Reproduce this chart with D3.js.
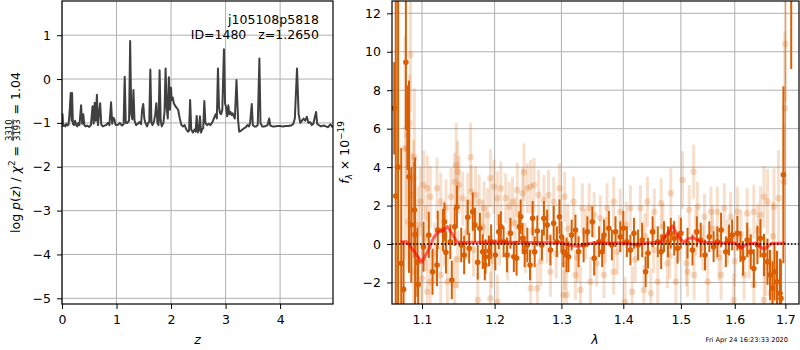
<!DOCTYPE html>
<html><head><meta charset="utf-8">
<script src="https://cdn.jsdelivr.net/npm/d3@7"></script>
<style>body{margin:0;background:#fff} svg{display:block} text{font-family:"DejaVu Sans",sans-serif;fill:#000}</style>
</head><body><svg id="c" width="800" height="350"></svg>
<script>
// ---------- DATA ----------
const pzZ = [0.00,0.01,0.02,0.04,0.06,0.08,0.10,0.12,0.14,0.16,0.175,0.185,0.20,0.22,0.24,0.26,0.28,0.30,0.32,0.35,0.37,0.39,0.41,0.43,0.46,0.50,0.53,0.56,0.58,0.60,0.62,0.64,0.66,0.68,0.70,0.72,0.75,0.78,0.81,0.84,0.87,0.90,0.92,0.94,0.96,0.98,1.02,1.06,1.10,1.13,1.15,1.17,1.20,1.23,1.25,1.27,1.29,1.31,1.33,1.36,1.39,1.42,1.45,1.47,1.49,1.51,1.53,1.56,1.58,1.60,1.62,1.64,1.66,1.69,1.71,1.73,1.75,1.77,1.79,1.81,1.83,1.86,1.88,1.90,1.92,1.94,1.96,1.98,2.00,2.01,2.03,2.05,2.08,2.10,2.13,2.16,2.19,2.22,2.25,2.28,2.31,2.33,2.35,2.37,2.40,2.43,2.45,2.47,2.49,2.51,2.53,2.55,2.57,2.59,2.61,2.63,2.66,2.69,2.72,2.75,2.77,2.80,2.82,2.84,2.86,2.88,2.90,2.92,2.94,2.97,2.99,3.01,3.03,3.05,3.07,3.09,3.11,3.13,3.15,3.17,3.20,3.23,3.25,3.28,3.31,3.34,3.37,3.40,3.43,3.45,3.48,3.50,3.53,3.56,3.59,3.62,3.64,3.67,3.70,3.74,3.77,3.80,3.82,3.86,3.90,3.95,4.00,4.05,4.10,4.15,4.20,4.24,4.27,4.31,4.34,4.37,4.40,4.43,4.46,4.49,4.52,4.55,4.58,4.61,4.64,4.66,4.68,4.71,4.75,4.80,4.84,4.88,4.92,4.95,4.97];
const pzLogP = [-1.08,-0.80,-1.07,-1.05,-1.08,-1.02,-1.06,-1.04,-0.75,-0.32,-0.95,-0.32,-1.02,-1.05,-0.95,-1.05,-1.08,-1.00,-1.05,-0.60,-1.02,-0.80,-1.05,-1.08,-1.06,-1.09,-1.05,-0.62,-1.02,-0.54,-0.95,-0.36,-1.05,-0.78,-0.55,-1.04,-1.08,-1.06,-1.05,-1.00,-1.05,-0.53,-1.02,-0.88,-0.92,-1.04,-1.05,-1.00,-1.06,-1.03,0.05,-1.00,-1.00,-0.95,0.87,-0.80,-0.92,-0.25,-0.95,-1.05,-1.02,-0.98,-1.03,-0.70,-0.57,-0.90,-1.00,-1.08,-1.00,-0.98,0.22,-1.00,-1.05,-0.95,-0.80,-0.55,-1.00,-1.05,0.20,-0.95,-1.08,-1.00,-0.75,0.24,-0.65,-0.90,0.04,-0.70,-0.20,-0.48,-0.42,-0.55,-0.62,-0.65,-0.70,-0.90,-1.05,-1.08,-1.05,-1.15,-1.20,-1.18,-0.48,-1.15,-1.22,-1.15,-1.20,-0.84,-1.22,-1.18,-0.85,-1.22,-1.15,-1.12,-0.50,-1.00,-1.05,-1.02,-1.05,-1.00,-0.95,-0.85,-0.80,-0.90,0.24,-0.65,-0.78,-0.80,-0.70,0.68,-0.55,-0.65,-0.85,-0.60,-0.80,-0.75,-0.82,-0.78,-0.85,-0.90,-0.02,-0.95,-1.20,-1.18,-1.15,-1.12,-1.10,-1.05,-1.08,-1.00,-0.57,-1.05,-1.08,-1.08,-1.05,0.47,-1.00,-1.08,-1.08,-1.07,-1.05,-0.90,-1.06,-1.08,-1.08,-1.07,-1.07,-1.08,-1.07,-1.07,-1.06,-1.03,-0.90,0.24,-0.80,-1.00,-0.95,-0.90,-0.95,-0.86,-1.00,-0.98,-1.05,-1.02,-0.85,-0.75,-1.02,-1.05,-1.08,-1.06,-1.08,-1.10,-1.03,-1.08,-1.10];

const darkLam = [1.064,1.066,1.069,1.073,1.076,1.079,1.081,1.083,1.086,1.090,1.091,1.094,1.095,1.102,1.109,1.114,1.120,1.121,1.128,1.130,1.132,1.138,1.140,1.144,1.147,1.153,1.157,1.162,1.164,1.169,1.172,1.176,1.179,1.183,1.186,1.187,1.192,1.195,1.201,1.206,1.209,1.213,1.218,1.223,1.228,1.232,1.236,1.238,1.241,1.244,1.248,1.252,1.256,1.259,1.263,1.270,1.273,1.278,1.283,1.288,1.293,1.297,1.303,1.311,1.300,1.308,1.316,1.322,1.327,1.335,1.341,1.349,1.352,1.360,1.365,1.368,1.376,1.381,1.387,1.395,1.400,1.406,1.412,1.418,1.425,1.432,1.438,1.442,1.450,1.459,1.465,1.470,1.477,1.482,1.488,1.494,1.500,1.512,1.521,1.529,1.536,1.544,1.552,1.560,1.567,1.574,1.583,1.589,1.595,1.605,1.611,1.616,1.624,1.631,1.637,1.644,1.650,1.657,1.664,1.669,1.674,1.678,1.683,1.689,1.691,1.696,1.712];
const darkFlux = [7.06,2.5,4.0,-1.0,-2.36,9.45,6.05,3.5,1.0,1.77,0.5,-0.95,-2.1,-0.14,0.47,-1.44,-1.09,0.73,0.73,1.16,-0.43,0.12,-1.87,0.9,1.94,-0.05,-0.57,1.39,-0.22,1.68,0.99,-0.95,0.82,-0.4,-1.09,-0.66,-0.36,0.12,-0.57,0.64,0.9,0.12,-0.57,0.56,-0.66,-0.74,0.9,1.42,0.3,-0.4,-0.05,-1.09,1.34,-0.4,0.68,-0.05,1.34,0.99,-0.31,1.08,0.12,1.42,-0.4,-0.66,0.38,-0.57,0.47,0.73,-0.4,-0.05,0.64,1.16,-0.74,0.12,-0.4,0.47,0.82,-0.05,0.64,0.38,0.82,0.12,-0.31,0.56,-0.05,0.21,-1.44,-0.48,0.64,0.12,-0.4,0.38,0.12,0.56,0.3,-0.22,0.56,0.04,-0.31,0.64,0.21,-0.57,0.38,-0.14,0.12,0.73,-0.4,0.21,0.47,0.56,-0.14,-0.74,0.21,-0.4,-1.27,-0.05,0.3,-0.57,-0.92,-1.61,-2.3,-1.44,-1.96,-2.56,-2.83,3.6,14.0];
const darkErr = [2.4,11,9,6,2.5,3.5,2.2,5,3,2.5,4,1.8,1.5,1.3,1.2,1.2,1.1,1.0,1.1,1.0,1.1,0.9,1.0,1.0,1.1,0.9,1.0,0.9,0.8,1.0,0.9,0.9,0.8,0.9,0.8,0.9,0.8,0.9,0.8,0.9,0.8,0.8,0.9,0.8,0.8,0.9,0.8,0.9,0.8,0.8,0.9,0.8,0.9,0.8,0.8,0.8,0.9,0.8,0.8,0.9,0.8,0.9,0.8,0.8,0.8,0.9,0.8,0.8,0.8,0.9,0.8,0.8,0.9,0.8,0.8,0.8,0.9,0.8,0.8,0.8,0.9,0.8,0.8,0.8,0.8,0.9,0.8,0.8,0.8,0.8,0.9,0.8,0.8,0.8,0.9,0.8,0.8,0.8,0.8,0.8,0.9,0.8,0.8,0.8,0.8,0.9,0.8,0.8,0.8,0.9,0.8,0.9,0.9,0.9,1.0,1.0,1.0,1.1,1.2,1.3,1.4,1.5,1.6,1.8,2.0,4.6,4.9];

const faintLam = [1.078,1.080,1.081,1.082,1.084,1.085,1.087,1.089,1.089,1.090,1.095,1.098,1.100,1.102,1.105,1.107,1.107,1.111,1.111,1.117,1.120,1.125,1.125,1.130,1.132,1.134,1.139,1.144,1.144,1.146,1.148,1.148,1.150,1.155,1.160,1.162,1.166,1.167,1.170,1.173,1.176,1.178,1.183,1.185,1.190,1.194,1.194,1.196,1.199,1.204,1.204,1.207,1.209,1.216,1.219,1.221,1.226,1.230,1.233,1.241,1.243,1.245,1.248,1.253,1.253,1.256,1.258,1.263,1.265,1.268,1.273,1.278,1.280,1.283,1.288,1.292,1.297,1.303,1.305,1.305,1.308,1.310,1.319,1.322,1.325,1.330,1.333,1.338,1.344,1.346,1.352,1.356,1.362,1.368,1.370,1.373,1.384,1.384,1.390,1.395,1.403,1.405,1.412,1.415,1.420,1.429,1.435,1.437,1.441,1.447,1.452,1.453,1.459,1.465,1.468,1.476,1.480,1.482,1.491,1.497,1.503,1.510,1.512,1.515,1.523,1.524,1.527,1.530,1.540,1.543,1.549,1.555,1.558,1.567,1.570,1.574,1.580,1.586,1.592,1.598,1.600,1.605,1.612,1.618,1.624,1.628,1.637,1.637,1.645,1.650,1.657,1.657,1.660,1.664,1.670,1.675,1.677,1.683,1.686,1.696,1.699,1.700];
const faintFlux = [5.0,4.94,5.67,1.16,6.3,9.83,2.55,3.42,-1.44,4.5,0.99,2.2,-1.79,3.07,0.3,2.9,-2.48,2.46,-1.96,-0.5,2.9,2.2,-1.61,0.4,1.86,-1.96,2.46,3.24,-2.13,4.1,3.76,-0.8,3.07,2.38,0.6,2.2,4.51,2.72,-0.3,2.55,-2.91,2.2,0.9,1.86,1.51,3.42,-2.83,-0.9,2.98,2.38,-3.0,0.2,2.9,2.38,-0.6,1.94,2.2,1.1,2.81,2.64,3.73,-0.2,2.9,2.98,-2.3,0.7,3.07,-2.3,2.55,-0.9,2.29,0.3,2.55,-1.44,2.2,-0.5,2.9,-2.65,2.46,-1.09,-2.65,0.8,2.2,-1.61,-0.7,-2.39,1.86,0.5,1.86,-1.96,1.51,-1.0,1.34,-1.61,0.2,1.86,2.2,-1.44,-0.4,1.68,-3.0,1.0,1.86,-2.48,-0.8,1.86,-2.39,0.4,2.2,-2.56,-0.3,1.68,-1.96,2.12,0.9,-1.0,-0.6,2.64,-1.96,0.3,3.33,-1.0,-1.44,1.77,3.76,-1.61,0.6,1.94,-0.2,1.42,-1.96,1.68,0.8,1.68,-0.7,-1.61,1.86,0.1,1.42,-2.91,-0.9,1.68,0.5,-1.61,1.6,-0.5,1.68,-2.13,0.7,1.51,2.46,-2.91,-1.2,2.2,-2.56,0.4,1.94,-2.3,2.38,3.24,7.06,10.4];
const faintErr = [5.8,3,2,2.5,2.5,3,2.2,2,2,3.6,2,1.8,1.8,1.8,1.7,1.7,1.7,1.6,1.6,1.6,1.6,1.5,1.5,1.5,1.5,1.5,1.5,1.5,1.5,2.2,1.6,1.5,1.5,1.4,1.4,1.5,1.8,1.4,1.4,1.5,1.4,1.4,1.4,1.4,1.4,1.5,1.4,1.4,1.4,1.4,1.4,1.3,1.4,1.3,1.3,1.3,1.3,1.3,1.4,1.3,1.5,1.3,1.3,1.4,1.3,1.3,1.4,1.3,1.3,1.3,1.3,1.3,1.3,1.3,1.3,1.3,1.3,1.3,1.3,1.3,1.3,1.3,1.3,1.3,1.3,1.3,1.3,1.3,1.3,1.3,1.2,1.2,1.2,1.2,1.2,1.3,1.3,1.2,1.2,1.2,1.3,1.2,1.2,1.3,1.2,1.2,1.3,1.2,1.3,1.3,1.2,1.2,1.3,1.3,1.2,1.3,1.2,1.3,1.3,1.2,1.5,1.2,1.3,1.3,1.4,1.3,1.2,1.3,1.2,1.2,1.3,1.3,1.2,1.3,1.2,1.3,1.3,1.2,1.3,1.4,1.3,1.3,1.3,1.3,1.3,1.3,1.4,1.4,1.4,1.5,1.6,1.6,1.5,1.7,1.8,1.8,2,2,2.5,3,4,3];

const modelLam = [1.072,1.080,1.088,1.100,1.110,1.115,1.121,1.128,1.134,1.141,1.147,1.155,1.200,1.250,1.300,1.312,1.325,1.337,1.350,1.400,1.420,1.440,1.465,1.475,1.485,1.495,1.505,1.515,1.523,1.535,1.560,1.600,1.612,1.625,1.640,1.657,1.672,1.700];
const modelFlux = [0.12,0.12,-0.3,-0.95,-0.2,0.3,0.6,0.7,0.9,0.5,0.1,0.08,0.1,0.08,0.06,-0.05,-0.12,-0.02,0.05,0.05,-0.02,0.05,0.1,0.5,0.95,0.4,0.1,0.3,0.33,0.12,0.05,0.05,-0.2,0.0,0.05,-0.27,0.03,0.05];

const leftXTicks = [0,1,2,3,4];
const leftYTicks = [-5,-4,-3,-2,-1,0,1];
const rightXTicks = [1.1,1.2,1.3,1.4,1.5,1.6,1.7];
const rightYTicks = [-2,0,2,4,6,8,10,12];
const titleLine1 = "j105108p5818";
const titleLine2 = "ID=1480   z=1.2650";
const chi2Num = "3310", chi2Den = "3193", chi2Val = "1.04";
const stamp = "Fri Apr 24 16:23:33 2020";

// ---------- LAYOUT ----------
const svg = d3.select('#c');
const L = {x0:62, x1:333, y0:1, y1:304};
const R = {x0:392, x1:799, y0:1, y1:304};
const FS = 12.5;
const DARK = '#d95f02';
const GRID = '#b0b0b0';

const xz = d3.scaleLinear().domain([0,4.97]).range([L.x0,L.x1]);
const yp = d3.scaleLinear().domain([-5.13,1.78]).range([L.y1,L.y0]);
const xl = d3.scaleLog().domain([1.0612,1.728]).range([R.x0,R.x1]);
const yf = d3.scaleLinear().domain([-3.12,12.64]).range([R.y1,R.y0]);

const defs = svg.append('defs');
defs.append('clipPath').attr('id','clipL').append('rect').attr('x',L.x0).attr('y',L.y0).attr('width',L.x1-L.x0).attr('height',L.y1-L.y0);
defs.append('clipPath').attr('id','clipR').append('rect').attr('x',R.x0).attr('y',R.y0).attr('width',R.x1-R.x0).attr('height',R.y1-R.y0);

function grid(P, xs, ys, xt, yt){
  const g = svg.append('g').attr('stroke',GRID).attr('stroke-width',1);
  xt.forEach(t=>g.append('line').attr('x1',xs(t)).attr('x2',xs(t)).attr('y1',P.y0).attr('y2',P.y1));
  yt.forEach(t=>g.append('line').attr('y1',ys(t)).attr('y2',ys(t)).attr('x1',P.x0).attr('x2',P.x1));
}
grid(L, xz, yp, leftXTicks, leftYTicks);
grid(R, xl, yf, rightXTicks, rightYTicks);

// ---------- LEFT: p(z) ----------
const pz = pzZ.map((z,i)=>[z,pzLogP[i]]);
svg.append('g').attr('clip-path','url(#clipL)').append('path')
  .attr('d', d3.line().x(d=>xz(d[0])).y(d=>yp(d[1]))(pz))
  .attr('fill','none').attr('stroke','#404040').attr('stroke-width',2).attr('stroke-linejoin','round');

svg.append('text').attr('x',319).attr('y',24).attr('text-anchor','end').attr('font-size',FS).text(titleLine1);
svg.append('text').attr('x',319).attr('y',38.5).attr('text-anchor','end').attr('font-size',FS).attr('xml:space','preserve').style('white-space','pre').text(titleLine2);

// ---------- RIGHT: spectrum ----------
const gR = svg.append('g').attr('clip-path','url(#clipR)');
const faint = faintLam.map((l,i)=>({l, f:faintFlux[i], e:faintErr[i]}));
const dark = darkLam.map((l,i)=>({l, f:darkFlux[i], e:darkErr[i]}));

const gf = gR.append('g');
gf.selectAll('line').data(faint).join('line')
  .attr('x1',d=>xl(d.l)).attr('x2',d=>xl(d.l)).attr('y1',d=>yf(d.f-d.e)).attr('y2',d=>yf(d.f+d.e))
  .attr('stroke',DARK).attr('stroke-opacity',0.2).attr('stroke-width',3);
gf.selectAll('circle').data(faint).join('circle')
  .attr('cx',d=>xl(d.l)).attr('cy',d=>yf(d.f)).attr('r',3.2)
  .attr('fill',DARK).attr('fill-opacity',0.22);

const gd = gR.append('g');
gd.selectAll('line').data(dark).join('line')
  .attr('x1',d=>xl(d.l)).attr('x2',d=>xl(d.l)).attr('y1',d=>yf(d.f-d.e)).attr('y2',d=>yf(d.f+d.e))
  .attr('stroke',DARK).attr('stroke-width',2);
gd.selectAll('circle').data(dark).join('circle')
  .attr('cx',d=>xl(d.l)).attr('cy',d=>yf(d.f)).attr('r',2.8).attr('fill',DARK);

gR.append('path').attr('d', d3.line().x(d=>xl(d[0])).y(d=>yf(d[1]))(modelLam.map((l,i)=>[l,modelFlux[i]])))
  .attr('fill','none').attr('stroke','red').attr('stroke-opacity',0.6).attr('stroke-width',3).attr('stroke-linejoin','round');

gR.append('line').attr('x1',R.x0).attr('x2',R.x1).attr('y1',yf(0)).attr('y2',yf(0))
  .attr('stroke','#000').attr('stroke-width',1.5).attr('stroke-dasharray','1.5,2');

// ---------- AXES ----------
function styleAxis(g){
  g.select('.domain').remove();
  g.selectAll('.tick line').attr('stroke','#000').attr('stroke-width',1);
  g.selectAll('.tick text').attr('font-size',FS).attr('font-family','DejaVu Sans').attr('fill','#000');
}
svg.append('g').attr('transform',`translate(0,${L.y1})`)
  .call(d3.axisBottom(xz).tickValues(leftXTicks).tickSize(5).tickPadding(6).tickFormat(d3.format('d'))).call(styleAxis);
svg.append('g').attr('transform',`translate(${L.x0},0)`)
  .call(d3.axisLeft(yp).tickValues(leftYTicks).tickSize(5).tickPadding(6).tickFormat(d3.format('d'))).call(styleAxis);
svg.append('g').attr('transform',`translate(0,${R.y1})`)
  .call(d3.axisBottom(xl).tickValues(rightXTicks).tickSize(5).tickPadding(6).tickFormat(d3.format('.1f'))).call(styleAxis);
svg.append('g').attr('transform',`translate(${R.x0},0)`)
  .call(d3.axisLeft(yf).tickValues(rightYTicks).tickSize(5).tickPadding(6).tickFormat(d3.format('d'))).call(styleAxis);

[L,R].forEach(P=>svg.append('rect').attr('x',P.x0).attr('y',P.y0).attr('width',P.x1-P.x0).attr('height',P.y1-P.y0)
  .attr('fill','none').attr('stroke','#000').attr('stroke-width',1.2));

// axis labels
svg.append('text').attr('x',(L.x0+L.x1)/2).attr('y',344).attr('text-anchor','middle').attr('font-size',FS).attr('font-style','italic').text('z');
svg.append('text').attr('x',595).attr('y',344).attr('text-anchor','middle').attr('font-size',FS).attr('font-style','italic').text('λ');

// left y label with fraction
(function(){
  const outer = svg.append('g').attr('transform',`translate(20,${(L.y0+L.y1)/2}) rotate(-90)`);
  const g = outer.append('g');
  const t1 = g.append('text').attr('font-size',FS).attr('xml:space','preserve').style('white-space','pre');
  t1.append('tspan').text('log ');
  t1.append('tspan').attr('font-style','italic').text('p');
  t1.append('tspan').text('(');
  t1.append('tspan').attr('font-style','italic').text('z');
  t1.append('tspan').text(') / ');
  t1.append('tspan').attr('font-style','italic').text('χ');
  t1.append('tspan').attr('font-size',8.8).attr('dy',-5).text('2');
  t1.append('tspan').attr('dy',5).text(' = ');
  const w1 = t1.node().getComputedTextLength();
  const num = g.append('text').attr('font-size',8.5).attr('text-anchor','middle').attr('y',-8.3).text(chi2Num);
  const den = g.append('text').attr('font-size',8.5).attr('text-anchor','middle').attr('y',0).text(chi2Den);
  const fw = Math.max(num.node().getComputedTextLength(), den.node().getComputedTextLength()) + 2;
  num.attr('x',w1+fw/2); den.attr('x',w1+fw/2);
  g.append('line').attr('x1',w1+1).attr('x2',w1+fw-1).attr('y1',-7.1).attr('y2',-7.1).attr('stroke','#000').attr('stroke-width',0.8);
  const t3 = g.append('text').attr('font-size',FS).attr('x',w1+fw).attr('xml:space','preserve').style('white-space','pre').text(' = ' + chi2Val);
  const W = w1 + fw + t3.node().getComputedTextLength();
  g.attr('transform',`translate(${-W/2},0)`);
})();

// right y label
(function(){
  const t = svg.append('text').attr('transform',`translate(349,${(R.y0+R.y1)/2}) rotate(-90)`)
    .attr('text-anchor','middle').attr('font-size',FS).attr('xml:space','preserve').style('white-space','pre');
  t.append('tspan').attr('font-style','italic').text('f');
  t.append('tspan').attr('font-style','italic').attr('font-size',8.8).attr('dy',3).text('λ');
  t.append('tspan').attr('dy',-3).text(' × 10');
  t.append('tspan').attr('font-size',8.8).attr('dy',-5).text('−19');
})();

svg.append('text').attr('x',788).attr('y',342).attr('text-anchor','end').attr('font-size',6.6).text(stamp);
</script></body></html>
